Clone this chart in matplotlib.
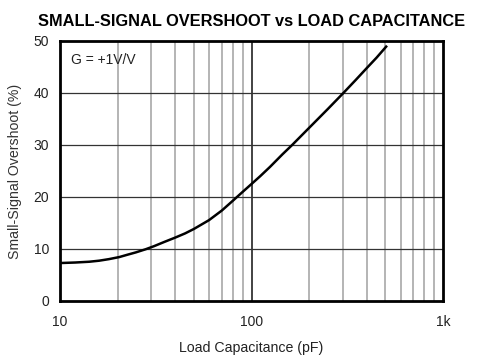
import matplotlib
matplotlib.use("Agg")
import matplotlib.pyplot as plt
from matplotlib.ticker import FixedLocator, NullFormatter

plt.rcParams['font.family'] = ['Liberation Sans', 'DejaVu Sans']

cap_pf = [10, 12, 14.2, 16, 18, 20.4, 22.5, 24.9, 28, 31, 35, 40, 45, 50, 60, 70, 80, 90,
          100, 111, 125, 145, 163, 200, 250, 300, 350, 400, 450, 510]
overshoot = [7.3, 7.4, 7.55, 7.75, 8.05, 8.45, 8.9, 9.35, 9.95, 10.55, 11.35, 12.2, 13.0, 13.85,
             15.55, 17.4, 19.3, 21.0, 22.5, 24.0, 25.8, 28.2, 30.0, 33.3, 36.9, 39.9, 42.5, 44.8, 46.8, 49.1]
x_ticks = [10, 100, 1000]
x_tick_labels = ['10', '100', '1k']
y_ticks = [0, 10, 20, 30, 40, 50]

fig = plt.figure(figsize=(4.78, 3.58), dpi=100)
ax = fig.add_axes([60/478, 1-301/358, 383/478, 260/358])
ax.set_xscale('log')
ax.set_xlim(10, 1000)
ax.set_ylim(0, 50)

minor = [m * d for d in (10, 100) for m in range(2, 10)]
for xv in minor:
    ax.axvline(xv, color='#a0a0a0', lw=1.1, zorder=1)
ax.axvline(100, color='#222222', lw=1.2, zorder=1)
for yv in [10, 20, 30, 40]:
    ax.axhline(yv, color='#333333', lw=0.9, zorder=1)

ax.plot(cap_pf, overshoot, color='black', lw=1.8, zorder=3,
        solid_joinstyle='round', solid_capstyle='butt')

ax.xaxis.set_major_locator(FixedLocator(x_ticks))
ax.set_xticklabels(x_tick_labels)
ax.xaxis.set_minor_formatter(NullFormatter())
ax.set_yticks(y_ticks)
ax.tick_params(which='both', length=0, labelsize=10, colors='#222222')
ax.tick_params(axis='x', pad=10)
ax.tick_params(axis='y', pad=8)

for s in ax.spines.values():
    s.set_linewidth(2.0)
    s.set_color('black')

ax.text(0.03, 0.955, 'G = +1V/V', transform=ax.transAxes, fontsize=10,
        va='top', ha='left', color='#222222')
ax.set_xlabel('Load Capacitance (pF)', fontsize=10.2, color='#222222', labelpad=9)
ax.set_ylabel('Small-Signal Overshoot (%)', fontsize=10.2, color='#333333', labelpad=8)
fig.text(252/478, 1-22/358, 'SMALL-SIGNAL OVERSHOOT vs LOAD CAPACITANCE',
         ha='center', va='center', fontsize=11.8, fontweight='bold', color='black')

fig.savefig('out.png', dpi=100)
